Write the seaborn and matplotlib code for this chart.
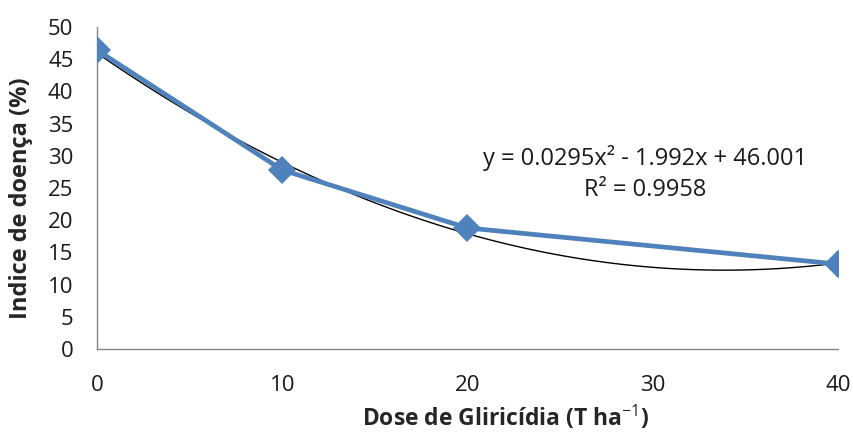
import matplotlib
matplotlib.use("Agg")
import matplotlib.pyplot as plt
import seaborn as sns
import pandas as pd

dose = [0, 10, 20, 40]
indice = [46.4, 27.8, 18.8, 13.2]
x_ticks = [0, 10, 20, 30, 40]
y_ticks = [0, 5, 10, 15, 20, 25, 30, 35, 40, 45, 50]
equation = "y = 0.0295x² - 1.992x + 46.001\nR² = 0.9958"

sns.set_style("white")
plt.rcParams['font.family'] = ['Open Sans', 'DejaVu Sans']
plt.rcParams['mathtext.fontset'] = 'custom'
plt.rcParams['mathtext.rm'] = 'Open Sans'
plt.rcParams['mathtext.it'] = 'Open Sans:italic'
plt.rcParams['mathtext.bf'] = 'Open Sans:bold'

df = pd.DataFrame({"dose": dose, "indice": indice})

fig = plt.figure(figsize=(8.54, 4.32), dpi=100)
ax = fig.add_axes([0.1136, 0.192, 0.8674, 0.7455])

sns.regplot(data=df, x="dose", y="indice", order=2, ci=None, scatter=False,
            color="black", line_kws={"lw": 1.0}, ax=ax)
sns.lineplot(data=df, x="dose", y="indice", color="#4F81BD", lw=3.4,
             marker="D", markersize=14, markeredgewidth=0, ax=ax, zorder=3)

ax.set_xlim(0, 40)
ax.set_ylim(0, 50)
ax.set_xticks(x_ticks)
ax.set_yticks(y_ticks)
ax.tick_params(axis="both", labelsize=16, colors="#868686", labelcolor="#1a1a1a",
               direction="out", length=6, width=1)
ax.tick_params(axis="y", pad=11)
ax.tick_params(axis="x", pad=13)
for s in ["top", "right"]:
    ax.spines[s].set_visible(False)
for s in ["left", "bottom"]:
    ax.spines[s].set_color("#868686")
    ax.spines[s].set_linewidth(1)
ax.set_xlabel("Dose de Gliricídia (T ha$^{-1}$)", fontsize=16.5, fontweight="bold")
ax.set_ylabel("Indice de doença (%)", fontsize=17, fontweight="bold")
ax.xaxis.set_label_coords(0.552, -0.17)
ax.yaxis.set_label_coords(-0.086, 0.469)
ax.text(0.74, 0.545, equation, transform=ax.transAxes, ha="center", va="center",
        fontsize=17, linespacing=1.35, color="#1a1a1a")

fig.savefig("out.png", dpi=100)
